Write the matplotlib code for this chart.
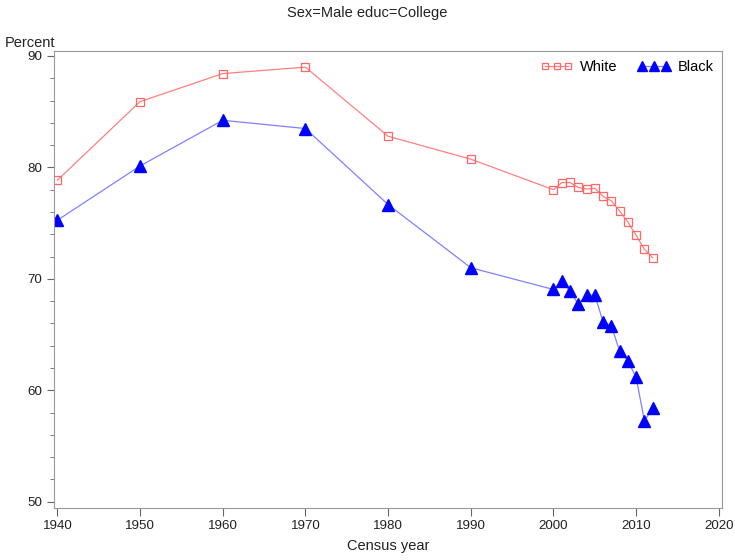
import matplotlib
matplotlib.use('Agg')
import matplotlib.pyplot as plt
from matplotlib.ticker import MultipleLocator

plt.rcParams['font.family'] = ['Liberation Sans', 'DejaVu Sans']

years = [1940, 1950, 1960, 1970, 1980, 1990, 2000, 2001, 2002, 2003, 2004, 2005,
         2006, 2007, 2008, 2009, 2010, 2011, 2012]
white = [78.85, 85.9, 88.42, 89.0, 82.8, 80.74, 78.0, 78.64, 78.65, 78.2, 78.07, 78.13,
         77.4, 77.0, 76.1, 75.1, 73.9, 72.66, 71.9]
black = [75.26, 80.13, 84.23, 83.49, 76.67, 71.0, 69.05, 69.82, 68.9, 67.73, 68.54, 68.54,
         66.15, 65.76, 63.55, 62.65, 61.16, 57.27, 58.38]

fig = plt.figure(figsize=(7.35, 5.6), dpi=100)
ax = fig.add_axes([0.0735, 0.093, 0.909, 0.816])

ax.plot(years, white, color='#ff8080', lw=0.9, marker='s', ms=5.2, mfc='none',
        mec='#ff6666', mew=0.9, label='White')
ax.plot(years, black, color='#8080ff', lw=0.9, marker='^', ms=8.5, mfc='#0000ff',
        mec='#0000ff', label='Black')

ax.set_xlim(1939.6, 2020.4)
ax.set_ylim(49.45, 90.45)
ax.set_xticks(range(1940, 2021, 10))
ax.set_yticks([50, 60, 70, 80, 90])
ax.yaxis.set_minor_locator(MultipleLocator(2))

for s in ax.spines.values():
    s.set_color('#999999')
ax.tick_params(colors='#666666', labelcolor='#222222', labelsize=9.6)
ax.tick_params(axis='x', length=6, pad=3)
ax.tick_params(axis='y', which='major', length=5)
ax.tick_params(axis='y', which='minor', length=3, color='#666666')

ax.set_xlabel('Census year', fontsize=10.5, color='#222222', labelpad=5)
fig.text(0.007, 0.91, 'Percent', fontsize=10.5, color='#222222', ha='left', va='bottom')
fig.text(0.5, 0.977, 'Sex=Male educ=College', fontsize=10.5, color='#222222', ha='center', va='center')

ax.legend(loc='upper right', ncol=2, numpoints=3, frameon=False, fontsize=10.5,
          handlelength=2.2, handletextpad=0.5, columnspacing=1.4, markerscale=0.85,
          borderaxespad=0.2, bbox_to_anchor=(1.0, 1.0))

fig.savefig('out.png', dpi=100)
